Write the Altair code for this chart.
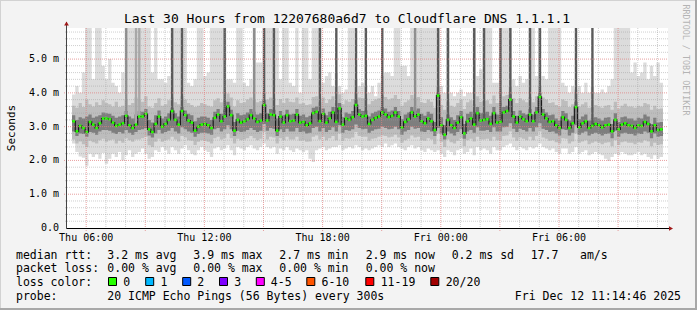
import altair as alt
import pandas as pd

# ---------------- data (milliseconds, one value per 10-minute step) ----------------
T0 = 5.28          # hours after Thu 00:00 at the left edge of the plot
STEP_H = 1 / 6     # 10 minutes

median_ms = [
    3.16, 2.86, 3.02, 2.96, 2.84, 3.14, 3.06, 2.96, 3.10, 3.24,
    3.24, 3.22, 3.12, 3.02, 3.06, 3.10, 3.32, 3.04, 2.96, 3.06,
    3.30, 3.30, 3.38, 2.92, 2.84, 3.08, 3.30, 3.00, 3.08, 3.20,
    3.46, 3.20, 3.06, 3.46, 3.34, 3.18, 3.12, 2.88, 3.00, 3.06,
    3.08, 3.04, 2.96, 3.26, 3.36, 3.16, 3.30, 3.60, 3.34, 2.88,
    3.20, 3.12, 3.16, 3.22, 3.34, 3.24, 3.14, 3.18, 3.64, 3.18,
    3.36, 3.34, 2.88, 3.30, 3.12, 3.34, 3.16, 3.18, 3.36, 3.12,
    3.14, 3.04, 3.10, 3.40, 3.44, 3.16, 3.38, 3.12, 3.24, 3.42,
    3.14, 3.54, 3.06, 3.24, 3.20, 3.28, 3.64, 3.36, 3.30, 3.32,
    3.08, 3.20, 3.26, 3.30, 3.42, 3.36, 3.28, 3.32, 3.42, 3.30,
    2.98, 3.14, 3.22, 3.42, 3.30, 3.36, 3.16, 3.10, 3.24, 3.16,
    2.90, 3.92, 3.04, 2.76, 3.20, 3.04, 2.96, 3.12, 3.28, 2.80,
    3.16, 3.24, 3.06, 3.40, 3.18, 3.20, 3.22, 3.08, 3.40, 3.12,
    3.14, 3.42, 3.46, 3.80, 3.30, 3.12, 3.30, 3.22, 3.16, 3.36,
    3.16, 3.42, 3.88, 3.36, 3.24, 3.14, 3.16, 3.04, 2.96, 3.28,
    3.20, 2.96, 3.10, 3.58, 2.98, 3.10, 3.16, 2.96, 3.02, 3.08,
    3.04, 2.98, 3.04, 3.06, 2.86, 3.20, 2.92, 3.06, 3.10, 3.04,
    3.02, 2.96, 3.04, 3.02, 3.14, 3.08, 2.86, 3.04, 2.90, 2.92,
]

light_lo = [
    2.50, 2.25, 2.12, 2.08, 1.84, 2.20, 2.10, 2.18, 2.05, 2.22,
    1.90, 2.05, 2.20, 2.10, 2.25, 2.00, 2.15, 2.30, 2.10, 2.20,
    2.25, 2.35, 2.20, 2.05, 2.10, 2.30, 2.25, 2.40, 2.30, 2.20,
    2.40, 2.30, 2.20, 2.35, 2.45, 2.30, 2.20, 2.15, 2.30, 2.40,
    2.30, 2.25, 2.10, 2.35, 2.40, 2.30, 2.35, 2.45, 2.30, 2.15,
    2.40, 2.35, 2.30, 2.40, 2.45, 2.35, 2.30, 2.40, 2.50, 2.40,
    2.35, 2.40, 2.20, 2.35, 2.30, 2.40, 2.30, 2.25, 2.35, 2.30,
    2.25, 2.30, 2.05, 1.95, 2.30, 2.35, 2.40, 2.30, 2.35, 2.40,
    2.40, 2.45, 2.30, 2.35, 2.40, 2.35, 2.45, 2.40, 2.30, 2.35,
    2.30, 2.35, 2.40, 2.45, 2.40, 2.50, 2.40, 2.45, 2.50, 2.40,
    2.35, 2.30, 2.40, 2.45, 2.35, 2.40, 2.30, 2.25, 2.35, 2.30,
    2.25, 2.30, 2.20, 2.10, 2.30, 2.25, 2.15, 2.30, 2.35, 2.20,
    2.25, 2.35, 2.15, 2.40, 2.30, 2.35, 2.30, 2.20, 2.40, 2.30,
    2.30, 2.40, 2.45, 2.50, 2.40, 2.30, 2.40, 2.35, 2.30, 2.40,
    2.35, 2.40, 2.50, 2.40, 2.35, 2.30, 2.35, 2.25, 2.20, 2.35,
    2.35, 2.20, 2.25, 2.40, 2.20, 2.25, 2.30, 2.15, 2.20, 2.25,
    2.20, 2.15, 2.05, 1.98, 2.10, 2.20, 2.15, 2.25, 2.20, 2.15,
    2.15, 2.20, 2.25, 2.15, 2.20, 2.10, 2.05, 2.15, 2.05, 2.10,
]

light_hi = [
    3.95, 4.20, 4.00, 4.60, 6.00, 6.00, 4.40, 6.00, 6.00, 4.80,
    4.40, 5.00, 4.30, 4.20, 4.00, 4.60, 6.00, 6.00, 6.00, 6.00,
    6.00, 6.00, 6.00, 6.00, 4.60, 6.00, 4.40, 4.40, 4.30, 4.50,
    6.00, 6.00, 6.00, 6.00, 6.00, 4.30, 4.20, 4.40, 6.00, 6.00,
    4.50, 4.60, 6.00, 6.00, 6.00, 6.00, 6.00, 4.40, 4.40, 4.30,
    6.00, 6.00, 4.30, 4.20, 4.40, 6.00, 4.90, 4.90, 6.00, 6.00,
    6.00, 6.00, 6.00, 4.40, 6.00, 6.00, 4.30, 4.20, 6.00, 4.00,
    6.00, 6.00, 4.40, 6.00, 6.00, 6.00, 4.30, 4.50, 4.60, 4.20,
    4.60, 4.20, 4.00, 4.10, 6.00, 6.00, 4.40, 4.20, 4.30, 4.20,
    4.00, 4.20, 3.90, 4.30, 4.50, 4.60, 4.60, 4.50, 6.00, 6.00,
    4.80, 4.80, 4.50, 6.00, 6.00, 6.00, 6.00, 6.00, 6.00, 6.00,
    6.00, 6.00, 4.20, 4.00, 6.00, 4.00, 3.90, 4.00, 4.10, 3.90,
    4.00, 4.00, 6.00, 4.50, 4.70, 6.00, 6.00, 6.00, 4.30, 4.30,
    6.00, 6.00, 6.00, 6.00, 4.40, 4.20, 4.50, 4.30, 4.40, 6.00,
    6.00, 4.50, 6.00, 4.50, 4.40, 6.00, 6.00, 6.00, 6.00, 4.30,
    4.20, 4.00, 4.20, 4.10, 4.20, 4.00, 4.30, 4.00, 4.20, 4.00,
    4.00, 4.10, 4.00, 4.20, 4.40, 6.00, 6.00, 6.00, 6.00, 6.00,
    4.60, 4.90, 4.50, 4.60, 4.90, 4.40, 4.80, 4.50, 4.90, 4.30,
]

mid_lo = [
    2.62, 2.50, 2.56, 2.48, 2.40, 2.58, 2.54, 2.50, 2.60, 2.64,
    2.55, 2.60, 2.62, 2.50, 2.58, 2.52, 2.66, 2.60, 2.55, 2.62,
    2.62, 2.66, 2.70, 2.45, 2.40, 2.55, 2.64, 2.55, 2.60, 2.62,
    2.70, 2.62, 2.56, 2.72, 2.68, 2.60, 2.58, 2.46, 2.55, 2.60,
    2.58, 2.55, 2.50, 2.66, 2.70, 2.62, 2.66, 2.80, 2.66, 2.50,
    2.64, 2.60, 2.62, 2.66, 2.72, 2.66, 2.60, 2.64, 2.84, 2.62,
    2.70, 2.68, 2.50, 2.66, 2.60, 2.70, 2.62, 2.62, 2.70, 2.58,
    2.60, 2.55, 2.56, 2.70, 2.74, 2.62, 2.70, 2.60, 2.66, 2.72,
    2.60, 2.80, 2.58, 2.66, 2.64, 2.68, 2.84, 2.72, 2.70, 2.70,
    2.58, 2.64, 2.66, 2.70, 2.74, 2.72, 2.68, 2.70, 2.76, 2.68,
    2.52, 2.60, 2.64, 2.74, 2.68, 2.70, 2.60, 2.58, 2.66, 2.62,
    2.48, 2.80, 2.55, 2.40, 2.62, 2.54, 2.50, 2.58, 2.66, 2.42,
    2.60, 2.64, 2.56, 2.70, 2.62, 2.62, 2.64, 2.58, 2.70, 2.60,
    2.58, 2.72, 2.74, 2.86, 2.68, 2.58, 2.68, 2.64, 2.60, 2.70,
    2.60, 2.72, 2.86, 2.68, 2.64, 2.58, 2.60, 2.54, 2.50, 2.66,
    2.64, 2.50, 2.56, 2.80, 2.52, 2.56, 2.60, 2.48, 2.52, 2.56,
    2.52, 2.48, 2.52, 2.54, 2.42, 2.60, 2.46, 2.54, 2.56, 2.52,
    2.52, 2.48, 2.54, 2.52, 2.60, 2.56, 2.42, 2.52, 2.46, 2.48,
]

mid_hi = [
    3.62, 3.56, 3.70, 3.58, 3.80, 3.66, 3.60, 3.72, 3.64, 3.78,
    3.70, 3.66, 3.60, 3.74, 3.58, 3.62, 3.82, 3.64, 3.70, 3.86,
    3.80, 3.74, 3.90, 3.60, 3.56, 3.70, 3.84, 3.62, 3.66, 3.78,
    3.86, 3.72, 3.66, 3.90, 3.80, 3.70, 3.64, 3.58, 3.62, 3.70,
    3.66, 3.62, 3.60, 3.78, 3.84, 3.72, 3.82, 3.98, 3.86, 3.60,
    3.78, 3.70, 3.72, 3.80, 3.86, 3.80, 3.72, 3.76, 4.00, 3.80,
    3.86, 3.84, 3.64, 3.82, 3.70, 3.84, 3.74, 3.72, 3.86, 3.68,
    3.70, 3.64, 3.66, 3.88, 3.90, 3.72, 3.86, 3.70, 3.80, 3.90,
    3.70, 3.96, 3.66, 3.78, 3.74, 3.82, 4.00, 3.86, 3.84, 3.84,
    3.66, 3.76, 3.80, 3.84, 3.92, 3.88, 3.80, 3.84, 3.94, 3.82,
    3.62, 3.72, 3.78, 3.94, 3.84, 3.88, 3.72, 3.70, 3.80, 3.74,
    3.56, 4.20, 3.64, 3.50, 3.74, 3.62, 3.58, 3.70, 3.80, 3.52,
    3.72, 3.78, 3.66, 3.90, 3.74, 3.76, 3.78, 3.68, 3.92, 3.70,
    3.70, 3.90, 3.94, 4.20, 3.84, 3.70, 3.84, 3.78, 3.72, 3.88,
    3.72, 3.90, 4.20, 3.86, 3.80, 3.70, 3.72, 3.64, 3.60, 3.80,
    3.76, 3.58, 3.66, 3.98, 3.60, 3.66, 3.72, 3.56, 3.62, 3.64,
    3.60, 3.56, 3.62, 3.64, 3.50, 3.74, 3.54, 3.62, 3.68, 3.60,
    3.60, 3.56, 3.62, 3.60, 3.70, 3.66, 3.50, 3.62, 3.52, 3.54,
]

dark_lo = [
    2.86, 2.72, 2.80, 2.78, 2.70, 2.84, 2.82, 2.76, 2.86, 2.90,
    2.90, 2.88, 2.82, 2.78, 2.84, 2.80, 2.90, 2.82, 2.76, 2.84,
    2.90, 2.92, 2.96, 2.74, 2.68, 2.80, 2.90, 2.80, 2.84, 2.88,
    2.96, 2.86, 2.80, 2.98, 2.92, 2.86, 2.82, 2.70, 2.78, 2.82,
    2.82, 2.80, 2.76, 2.92, 2.96, 2.86, 2.92, 3.04, 2.92, 2.72,
    2.88, 2.84, 2.86, 2.90, 2.96, 2.90, 2.84, 2.88, 3.08, 2.88,
    2.96, 2.94, 2.72, 2.92, 2.84, 2.94, 2.86, 2.86, 2.96, 2.84,
    2.86, 2.80, 2.82, 2.96, 3.00, 2.86, 2.96, 2.84, 2.90, 2.98,
    2.86, 3.04, 2.82, 2.90, 2.88, 2.92, 3.06, 2.96, 2.92, 2.94,
    2.82, 2.88, 2.92, 2.94, 3.00, 2.96, 2.92, 2.94, 3.00, 2.92,
    2.76, 2.86, 2.90, 3.00, 2.94, 2.96, 2.86, 2.84, 2.90, 2.86,
    2.72, 2.96, 2.80, 2.62, 2.86, 2.80, 2.74, 2.84, 2.92, 2.64,
    2.86, 2.90, 2.82, 2.98, 2.88, 2.88, 2.90, 2.84, 2.98, 2.86,
    2.86, 2.98, 3.00, 3.10, 2.94, 2.84, 2.94, 2.90, 2.86, 2.96,
    2.86, 2.98, 3.10, 2.94, 2.90, 2.84, 2.86, 2.80, 2.74, 2.92,
    2.90, 2.74, 2.82, 3.04, 2.76, 2.82, 2.86, 2.74, 2.78, 2.82,
    2.78, 2.74, 2.78, 2.80, 2.66, 2.88, 2.70, 2.80, 2.82, 2.78,
    2.78, 2.74, 2.80, 2.78, 2.86, 2.82, 2.66, 2.80, 2.70, 2.72,
]

dark_hi = [
    3.34, 3.20, 3.28, 3.24, 3.30, 3.36, 3.26, 3.30, 3.34, 3.42,
    3.40, 3.38, 3.32, 3.26, 3.30, 3.34, 3.46, 3.30, 3.24, 3.36,
    3.46, 3.44, 3.52, 3.20, 3.12, 3.34, 3.48, 3.24, 3.30, 3.40,
    3.56, 3.40, 3.30, 3.58, 3.48, 3.38, 3.34, 3.16, 3.26, 3.30,
    3.30, 3.26, 3.20, 3.44, 3.52, 3.38, 3.50, 3.74, 3.50, 3.14,
    3.40, 3.34, 3.36, 3.42, 3.52, 3.44, 3.36, 3.40, 3.80, 3.40,
    3.52, 3.50, 3.24, 3.46, 3.34, 3.50, 3.36, 3.38, 3.52, 3.32,
    3.36, 3.28, 3.32, 3.56, 3.60, 3.38, 3.54, 3.34, 3.44, 3.58,
    3.34, 3.70, 3.28, 3.42, 3.38, 3.46, 3.80, 3.52, 3.46, 3.48,
    3.30, 3.40, 3.44, 3.48, 3.58, 3.54, 3.44, 3.48, 3.58, 3.46,
    3.22, 3.36, 3.42, 3.58, 3.48, 3.54, 3.38, 3.32, 3.44, 3.38,
    3.14, 4.00, 3.28, 3.04, 3.36, 3.28, 3.20, 3.34, 3.46, 3.08,
    3.38, 3.44, 3.30, 3.58, 3.40, 3.42, 3.44, 3.32, 3.58, 3.36,
    3.34, 3.58, 3.62, 3.96, 3.46, 3.32, 3.48, 3.40, 3.36, 3.52,
    3.36, 3.58, 4.00, 3.52, 3.42, 3.34, 3.36, 3.24, 3.18, 3.46,
    3.40, 3.18, 3.32, 3.74, 3.22, 3.30, 3.36, 3.18, 3.24, 3.28,
    3.24, 3.18, 3.26, 3.28, 3.08, 3.40, 3.14, 3.28, 3.30, 3.24,
    3.24, 3.18, 3.26, 3.24, 3.36, 3.30, 3.08, 3.26, 3.12, 3.14,
]

# steps where most pings of the round went off the top of the graph
spike_steps = [16, 19, 20, 30, 33, 46, 55, 58, 61, 75, 80, 86, 89, 94, 104,
               111, 114, 122, 125, 130, 133, 139, 142, 153, 158]
spike_level = ["medium", "pale", "pale", "dark", "dark", "dark", "medium", "dark",
               "dark", "dark", "dark", "dark", "dark", "dark", "medium", "dark",
               "dark", "dark", "dark", "dark", "dark", "dark", "dark", "dark", "dark"]

x_tick_hours = [6, 12, 18, 24, 30]
x_tick_labels = ["Thu 06:00", "Thu 12:00", "Thu 18:00", "Fri 00:00", "Fri 06:00"]
y_tick_values = [0, 1, 2, 3, 4, 5]
y_tick_labels = ["0.0", "1.0 m", "2.0 m", "3.0 m", "4.0 m", "5.0 m"]

loss_labels = ["0", "1", "2", "3", "4-5", "6-10", "11-19", "20/20"]
loss_colors = ["#26ff00", "#00b8ff", "#0059ff", "#7e00ff", "#ff00ff", "#ff5500", "#ff0000", "#a10000"]

title = "Last 30 Hours from 12207680a6d7 to Cloudflare DNS 1.1.1.1"
stat_rtt = ["3.2 ms avg", "3.9 ms max", "2.7 ms min", "2.9 ms now", "0.2 ms sd", "17.7", "am/s"]
stat_loss = ["0.00 % avg", "0.00 % max", "0.00 % min", "0.00 % now"]
probe_text = "20 ICMP Echo Pings (56 Bytes) every 300s"
stamp_text = "Fri Dec 12 11:14:46 2025"

# ---------------- layout ----------------
N = len(median_ms)
for arr in (light_lo, light_hi, mid_lo, mid_hi, dark_lo, dark_hi):
    assert len(arr) == N
assert len(spike_steps) == len(spike_level)

W, H = 601, 200
PL, PT = 67, 28
MONO = "DejaVu Sans Mono"
XMAX = T0 + N * STEP_H
YMAX = 5.92

rows = []
for i in range(N):
    rows.append(dict(t=T0 + i * STEP_H, t_end=T0 + (i + 1) * STEP_H, tm=T0 + (i + 0.5) * STEP_H,
                     med=median_ms[i], llo=light_lo[i], lhi=light_hi[i],
                     mlo=mid_lo[i], mhi=mid_hi[i], dlo=dark_lo[i], dhi=dark_hi[i]))
df = pd.DataFrame(rows)
# closing edge for the step-after areas
last = dict(rows[-1]); last["t"] = XMAX
df_area = pd.concat([df, pd.DataFrame([last])], ignore_index=True)

df_spk = pd.DataFrame(dict(
    tm=[T0 + (s + 0.5) * STEP_H for s in spike_steps],
    base=[median_ms[s] for s in spike_steps],
    level=spike_level,
))

xs = alt.Scale(domain=[T0, XMAX], nice=False, zero=False)
ys = alt.Scale(domain=[0, YMAX], nice=False, zero=True)


def X(field):
    return alt.X(field, scale=xs, axis=None)


def Y(field):
    return alt.Y(field, scale=ys, axis=None)


base_area = alt.Chart(df_area)
light = base_area.mark_area(interpolate="step-after", color="#dcdcdc", clip=True).encode(
    x=X("t:Q"), y=Y("llo:Q"), y2="lhi:Q")
mid = base_area.mark_area(interpolate="step-after", color="#bdbdbd", clip=True).encode(
    x=X("t:Q"), y=Y("mlo:Q"), y2="mhi:Q")
dark = base_area.mark_area(interpolate="step-after", color="#7e7e7e", clip=True).encode(
    x=X("t:Q"), y=Y("dlo:Q"), y2="dhi:Q")
spikes = alt.Chart(df_spk).mark_bar(size=2.4, clip=True).encode(
    x=X("tm:Q"), y=Y("base:Q"), y2=alt.datum(6.0),
    color=alt.Color("level:N", legend=None,
                    scale=alt.Scale(domain=["dark", "medium", "pale"],
                                    range=["#5a5a5a", "#8e8e8e", "#a8a8a8"])))
med_line = base_area.mark_line(interpolate="step-after", color="#1a1a1a", strokeWidth=1.2, clip=True).encode(
    x=X("t:Q"), y=Y("med:Q"))
med_pts = alt.Chart(df).mark_square(size=7, color="#26ff00", opacity=1, clip=True).encode(
    x=X("tm:Q"), y=Y("med:Q"))

# grid (drawn over the smoke, like rrdtool)
hours = list(range(6, 36))
df_vmin = pd.DataFrame(dict(h=[h for h in hours if h % 3 != 0]))
df_vmaj = pd.DataFrame(dict(h=[h for h in hours if h % 3 == 0]))
df_hmin = pd.DataFrame(dict(v=[k / 5 for k in range(1, 30) if k % 5 != 0]))
df_hmaj = pd.DataFrame(dict(v=[1.0, 2.0, 3.0, 4.0, 5.0]))
dash = [1, 1]
vmin = alt.Chart(df_vmin).mark_rule(color="#a0a0a0", opacity=0.5, strokeDash=dash).encode(
    x=X("h:Q"), y=alt.value(0), y2=alt.value(H + 2))
vmaj = alt.Chart(df_vmaj).mark_rule(color="#e08080", opacity=0.75, strokeDash=dash).encode(
    x=X("h:Q"), y=alt.value(0), y2=alt.value(H + 3))
hmin = alt.Chart(df_hmin).mark_rule(color="#a0a0a0", opacity=0.5, strokeDash=dash).encode(
    y=Y("v:Q"), x=alt.value(-2), x2=alt.value(W))
hmaj = alt.Chart(df_hmaj).mark_rule(color="#e08080", opacity=0.75, strokeDash=dash).encode(
    y=Y("v:Q"), x=alt.value(-3), x2=alt.value(W))

# tick labels, placed through the same scales
df_xl = pd.DataFrame(dict(h=x_tick_hours, lab=x_tick_labels))
df_yl = pd.DataFrame(dict(v=y_tick_values, lab=y_tick_labels))
xlabels = alt.Chart(df_xl).mark_text(font=MONO, fontSize=10, align="center", baseline="top",
                                     color="#000").encode(x=X("h:Q"), y=alt.value(H + 5), text="lab:N")
ylabels = alt.Chart(df_yl).mark_text(font=MONO, fontSize=10, align="right", baseline="middle",
                                     color="#000").encode(y=Y("v:Q"), x=alt.value(-8), text="lab:N")

one = pd.DataFrame({"k": [0]})


def txt(text, x, y, size=11.5, align="left", baseline="alphabetic", color="#000000", angle=None):
    kw = dict(text=text, align=align, baseline=baseline, font=MONO, fontSize=size, color=color)
    if angle is not None:
        kw["angle"] = angle
    return alt.Chart(one).mark_text(**kw).encode(x=alt.value(x - PL), y=alt.value(y - PT))


def rule(x1, y1, x2, y2, color, width=1):
    return alt.Chart(one).mark_rule(color=color, strokeWidth=width).encode(
        x=alt.value(x1 - PL), y=alt.value(y1 - PT), x2=alt.value(x2 - PL), y2=alt.value(y2 - PT))


deco = [
    # axis lines and arrows
    rule(66.5, 22, 66.5, 228.5, "#444"),
    rule(66.5, 228.5, 671, 228.5, "#000"),
    alt.Chart(one).mark_point(shape="triangle-up", filled=True, size=22, color="#a01818", opacity=1).encode(
        x=alt.value(66.5 - PL), y=alt.value(23.5 - PT)),
    alt.Chart(one).mark_point(shape="triangle-right", filled=True, size=22, color="#a01818", opacity=1).encode(
        x=alt.value(671 - PL), y=alt.value(228.5 - PT)),
    # frame
    rule(0, 0.5, 697, 0.5, "#d2d2d2"),
    rule(0.5, 0, 0.5, 310, "#d2d2d2"),
    rule(0, 309, 697, 309, "#a8a8a8", 2),
    rule(696, 0, 696, 310, "#a8a8a8", 2),
    # titles
    txt(title, 347, 23.3, size=13, align="center"),
    txt("Seconds", 15, 128, size=11, align="center", angle=270),
    txt("RRDTOOL / TOBI OETIKER", 685.5, 60, size=8.4, align="center", baseline="middle",
        color="#b4b4b4", angle=90),
]

NB = "\u00a0"
rtt_x = [107.3, 193.3, 279.3, 365.7, 451.7, 530.7, 580.0]
loss_x = [107.3, 193.3, 279.3, 365.7]
L1, L2, L3, L4 = 258.6, 272.3, 286.0, 299.8
legend = [txt("median" + NB + "rtt:", 16, L1), txt("packet" + NB + "loss:", 16, L2),
          txt("loss" + NB + "color:", 16, L3), txt("probe:", 16, L4),
          txt(probe_text.replace(" ", NB), 107.3, L4),
          txt(stamp_text.replace(" ", NB), 681, L4, align="right")]
for s, x in zip(stat_rtt, rtt_x):
    legend.append(txt(s.replace(" ", NB), x, L1))
for s, x in zip(stat_loss, loss_x):
    legend.append(txt(s.replace(" ", NB), x, L2))
sq_x = [108.5, 145.7, 182.7, 219.5, 256.3, 306.8, 365.8, 430.8]
lab_x = [123.3, 160.5, 197.3, 234.3, 270.8, 321.5, 380.7, 445.7]
for c, lab, sx, lx in zip(loss_colors, loss_labels, sq_x, lab_x):
    legend.append(alt.Chart(one).mark_rect(color=c, stroke="#000", strokeWidth=1).encode(
        x=alt.value(sx - PL), x2=alt.value(sx + 8 - PL), y=alt.value(277.5 - PT), y2=alt.value(285.5 - PT)))
    legend.append(txt(lab, lx, L3))

chart = alt.layer(light, mid, dark, spikes, med_line, med_pts, vmin, vmaj, hmin, hmaj,
                  xlabels, ylabels, *deco, *legend).properties(
    width=W, height=H,
    autosize=alt.AutoSizeParams(type="none"),
    padding={"left": PL, "top": PT, "right": 697 - PL - W, "bottom": 310 - PT - H},
    background="#f3f3f3",
).configure_view(fill="#ffffff", stroke=None)

chart.save("out.html", embed_options={"renderer": "svg", "actions": False})
